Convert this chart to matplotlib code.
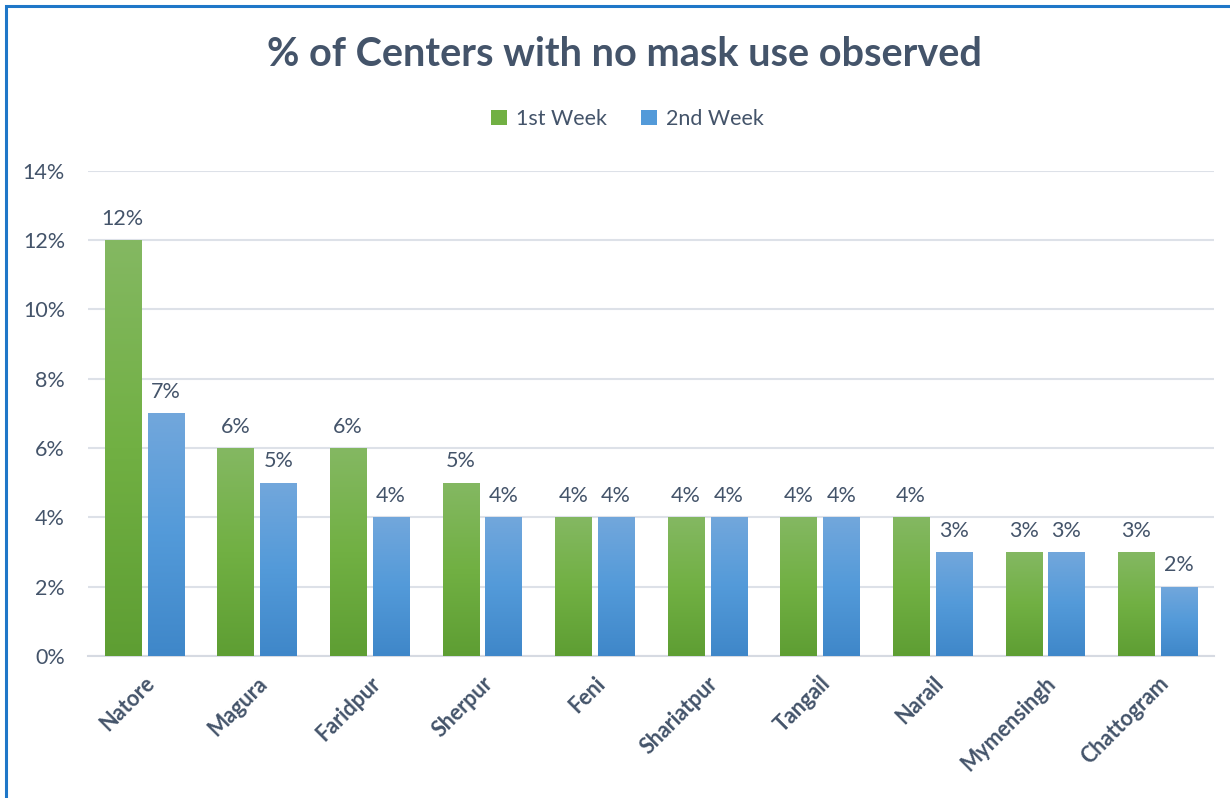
import numpy as np
import matplotlib.pyplot as plt
from matplotlib.patches import Patch, Rectangle
from matplotlib.colors import LinearSegmentedColormap

plt.rcParams['font.family'] = ['Lato', 'DejaVu Sans']

districts = ['Natore', 'Magura', 'Faridpur', 'Sherpur', 'Feni', 'Shariatpur',
             'Tangail', 'Narail', 'Mymensingh', 'Chattogram']
week1 = [12, 6, 6, 5, 4, 4, 4, 4, 3, 3]
week2 = [7, 5, 4, 4, 4, 4, 4, 3, 3, 2]
series_names = ['1st Week', '2nd Week']

text_col = '#44546A'
green_cmap = LinearSegmentedColormap.from_list('g', ['#5E9E33', '#71B043', '#84B862'])
blue_cmap = LinearSegmentedColormap.from_list('b', ['#3F87C9', '#539AD9', '#72A7DC'])

fig = plt.figure(figsize=(12.3, 7.98), dpi=100)
ax = fig.add_axes([0.0715, 0.178, 0.9155, 0.608])

x = np.arange(len(districts))
w = 0.32
off = 0.19
grad = np.linspace(0, 1, 256).reshape(-1, 1)


def gradient_bars(xpos, vals, cmap):
    bars = ax.bar(xpos, vals, width=w, color='none', edgecolor='none', zorder=3)
    for b in bars:
        bx, by = b.get_x(), b.get_y()
        bw, bh = b.get_width(), b.get_height()
        im = ax.imshow(grad, cmap=cmap, aspect='auto', origin='lower',
                       extent=[bx, bx + bw, by, by + bh], zorder=3)
        im.set_clip_path(b)
    return bars


b1 = gradient_bars(x - off, week1, green_cmap)
b2 = gradient_bars(x + off, week2, blue_cmap)

for bars, vals in [(b1, week1), (b2, week2)]:
    for b, v in zip(bars, vals):
        ax.text(b.get_x() + b.get_width() / 2, v + 0.33, f'{v}%', ha='center',
                va='bottom', fontsize=15.5, color=text_col)

ax.set_xlim(-0.5, len(districts) - 0.5)
ax.set_ylim(0, 14)
ax.set_yticks(range(0, 15, 2))
ax.set_yticklabels([f'{t}%' for t in range(0, 15, 2)], fontsize=15.5, color=text_col)
ax.set_xticks(x)
ax.set_xticklabels(districts, rotation=45, ha='right', rotation_mode='anchor',
                   fontsize=15.5, fontweight='bold', color=text_col)
ax.tick_params(axis='x', length=0, pad=12)
ax.tick_params(axis='y', length=0, pad=16.5)
ax.yaxis.grid(True, color='#DDE1E8', linewidth=1.5, zorder=0)
ax.set_axisbelow(True)
for s in ['top', 'right', 'left']:
    ax.spines[s].set_visible(False)
ax.spines['bottom'].set_color('#D6DAE2')
ax.spines['bottom'].set_linewidth(1.5)

fig.text(0.508, 0.932, '% of Centers with no mask use observed', ha='center',
         va='center', fontsize=28.5, fontweight='bold', color=text_col)

handles = [Patch(facecolor='#71B043', label=series_names[0]),
           Patch(facecolor='#539AD9', label=series_names[1])]
fig.legend(handles=handles, loc='center', bbox_to_anchor=(0.51, 0.851), ncol=2,
           frameon=False, fontsize=15.5, labelcolor=text_col, handlelength=0.75,
           handleheight=0.75, handletextpad=0.4, columnspacing=1.6)

# outer frame (only left/top edges show in the crop)
fig.add_artist(Rectangle((6 / 1230, -0.05), 1.2, 1 - 6 / 798 + 0.05,
                         transform=fig.transFigure, fill=False,
                         edgecolor='#1F77C8', linewidth=2.2))

fig.savefig('out.png', dpi=100)
